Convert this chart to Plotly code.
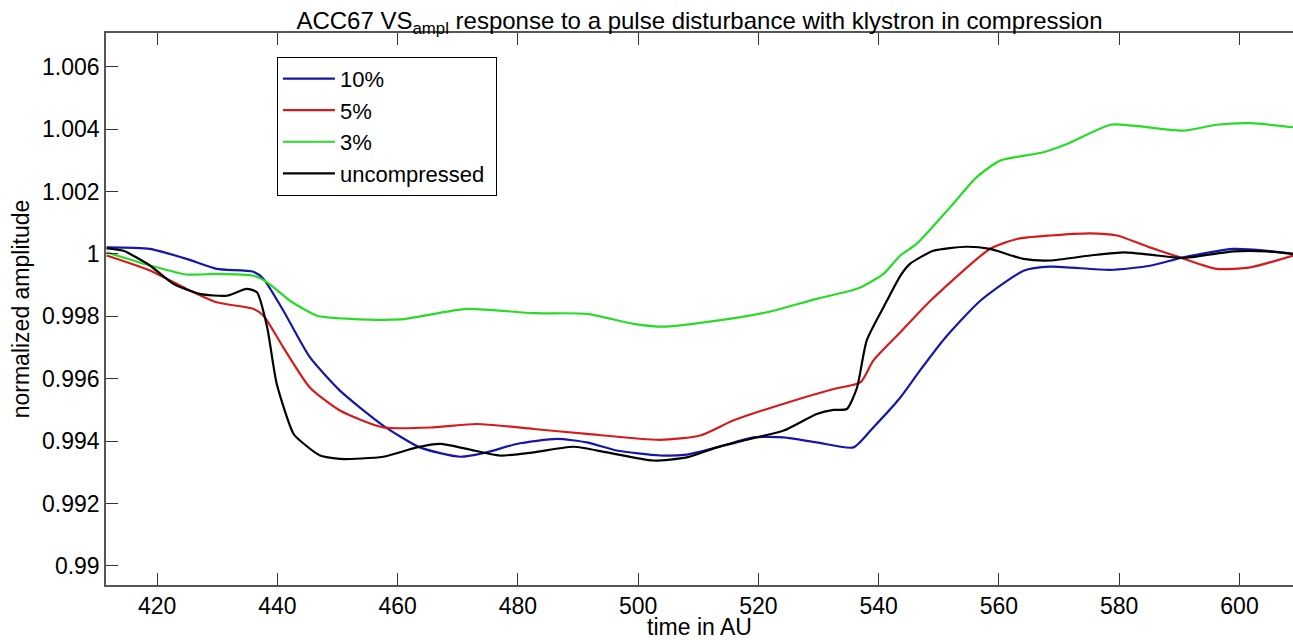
import plotly.graph_objects as go

# values
t_10 = [411.6, 418.8, 424.9, 429.9, 436.0, 437.7, 441.0, 445.4, 450.4, 457.6, 463.7,
        470.4, 474.8, 479.8, 486.5, 491.5, 496.4, 503.6, 508.1, 513.1, 519.2, 524.2,
        529.7, 535.8, 539.1, 543.6, 547.0, 551.0, 556.9, 564.1, 568.5, 578.5, 585.1,
        590.6, 599.0, 604.6, 608.9]
a_10 = [1.00021, 1.00016, 0.99984, 0.99952, 0.99943, 0.99920, 0.99818, 0.99669, 0.99562,
        0.99450, 0.99380, 0.99350, 0.99364, 0.99391, 0.99407, 0.99396, 0.99370, 0.99354,
        0.99357, 0.99380, 0.99412, 0.99412, 0.99396, 0.99380, 0.99444, 0.99540, 0.99630,
        0.99730, 0.99850, 0.99946, 0.99959, 0.99949, 0.99962, 0.99989, 1.00016, 1.00010,
        1.00000]

t_5 = [411.6, 418.8, 424.9, 429.9, 436.0, 437.7, 441.0, 445.4, 450.4, 457.6, 465.9,
       473.2, 482.6, 491.5, 503.6, 510.3, 515.8, 524.2, 532.5, 537.0, 539.1, 543.6,
       548.6, 558.5, 563.0, 568.5, 575.2, 579.6, 585.1, 590.1, 596.2, 601.8, 608.9]
a_5 = [0.99995, 0.99947, 0.99888, 0.99845, 0.99824, 0.99802, 0.99700, 0.99572, 0.99498,
       0.99444, 0.99444, 0.99455, 0.99439, 0.99423, 0.99404, 0.99418, 0.99466, 0.99520,
       0.99567, 0.99589, 0.99658, 0.99749, 0.99850, 1.00016, 1.00048, 1.00059, 1.00066,
       1.00059, 1.00021, 0.99989, 0.99952, 0.99957, 0.99995]

t_3 = [411.6, 418.8, 424.9, 429.9, 436.0, 438.3, 442.1, 446.6, 452.0, 460.4, 471.5,
       482.6, 491.5, 499.2, 504.7, 513.1, 521.4, 529.7, 535.3, 537.0, 540.8, 543.6,
       546.3, 551.9, 556.3, 560.2, 567.4, 571.3, 578.5, 582.3, 590.6, 596.2, 601.8,
       608.9]
a_3 = [1.00005, 0.99963, 0.99934, 0.99936, 0.99930, 0.99909, 0.99850, 0.99802, 0.99792,
       0.99790, 0.99824, 0.99810, 0.99808, 0.99776, 0.99767, 0.99786, 0.99813, 0.99856,
       0.99882, 0.99893, 0.99936, 0.99995, 1.00032, 1.00150, 1.00246, 1.00299, 1.00326,
       1.00352, 1.00414, 1.00411, 1.00395, 1.00414, 1.00419, 1.00406]

t_unc = [411.6, 414.4, 418.8, 422.7, 427.1, 431.6, 434.9, 436.6, 438.3, 439.9, 442.7,
         444.5, 447.1, 450.4, 457.6, 463.2, 467.1, 471.5, 477.0, 482.6, 489.2, 494.8,
         502.5, 508.1, 513.1, 518.6, 524.2, 529.7, 532.5, 534.7, 536.4, 538.0, 540.8,
         543.6, 545.2, 549.1, 554.6, 558.5, 564.1, 568.5, 575.2, 580.8, 586.3, 590.6,
         599.0, 604.6, 608.9]
a_unc = [1.00018, 1.00010, 0.99963, 0.99904, 0.99872, 0.99866, 0.99888, 0.99877, 0.99765,
         0.99583, 0.99423, 0.99390, 0.99354, 0.99343, 0.99350, 0.99380, 0.99391, 0.99375,
         0.99354, 0.99364, 0.99382, 0.99364, 0.99338, 0.99348, 0.99380, 0.99407, 0.99434,
         0.99487, 0.99500, 0.99503, 0.99572, 0.99722, 0.99829, 0.99930, 0.99968, 1.00010,
         1.00023, 1.00016, 0.99984, 0.99979, 0.99995, 1.00005, 0.99995, 0.99987, 1.00008,
         1.00008, 1.00000]

series = [
    ("10%", t_10, a_10, "#1616a8"),
    ("5%", t_5, a_5, "#d41c1c"),
    ("3%", t_3, a_3, "#26dc26"),
    ("uncompressed", t_unc, a_unc, "#000000"),
]

y_ticks = [0.99, 0.992, 0.994, 0.996, 0.998, 1.0, 1.002, 1.004, 1.006]
y_tick_text = ["0.99", "0.992", "0.994", "0.996", "0.998", "1", "1.002", "1.004", "1.006"]
x_ticks = [420, 440, 460, 480, 500, 520, 540, 560, 580, 600]

fig = go.Figure()
for name, t, a, col in series:
    fig.add_trace(go.Scatter(x=t, y=a, name=name + "&nbsp;", mode="lines",
                             line=dict(color=col, width=2.2, shape="spline", smoothing=0.6)))

font = "Liberation Sans, Arial, sans-serif"
fig.update_layout(
    width=1293, height=640,
    margin=dict(l=106, r=0, t=33, b=55),
    paper_bgcolor="white", plot_bgcolor="white",
    font=dict(family=font, size=23, color="black"),
    title=dict(text="ACC67 VS<sub>ampl</sub> response to a pulse disturbance with klystron in compression",
               x=0.5, xref="paper", xanchor="center", y=0.968, yref="container", yanchor="middle",
               font=dict(size=24)),
    legend=dict(x=0.144, y=0.957, xanchor="left", yanchor="top",
                bordercolor="black", borderwidth=1, bgcolor="white",
                font=dict(size=22), itemwidth=52, tracegroupgap=0),
    showlegend=True,
)
fig.update_xaxes(range=[411.5, 608.9], tickvals=x_ticks, ticks="inside", ticklen=12,
                 tickcolor="#333", showline=True, linecolor="#555", linewidth=1.5,
                 mirror="ticks", showgrid=False, zeroline=False,
                 title=dict(text="time in AU", standoff=2, font=dict(size=23)))
fig.update_yaxes(range=[0.98939, 1.00708], tickvals=y_ticks, ticktext=y_tick_text,
                 ticks="inside", ticklen=12, tickcolor="#333", showline=True,
                 linecolor="#555", linewidth=1.5, showgrid=False, zeroline=False,
                 title=dict(text="normalized amplitude", standoff=6, font=dict(size=23)))

# page body has a default margin; remove it so the figure sits at the window origin
fig.write_html("out.html", config={"displayModeBar": False},
               post_script="document.body.style.margin='0';")
